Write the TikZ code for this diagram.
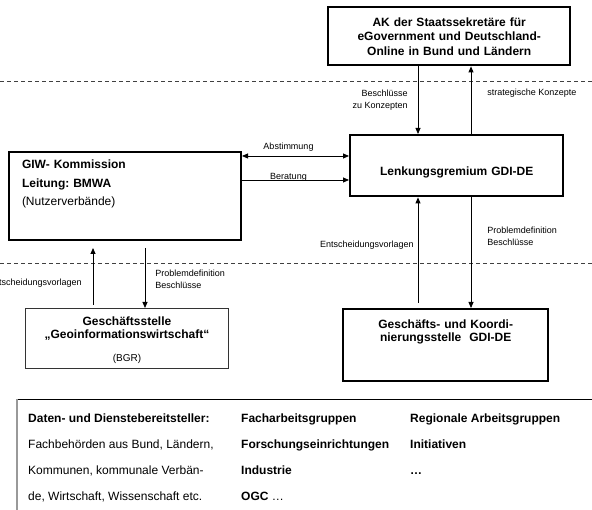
\documentclass[tikz,border=0pt]{standalone}
\usepackage{fontspec}
\setmainfont{Liberation Sans}
\usepackage{tikz}
\usetikzlibrary{arrows.meta,positioning,calc}
\frenchspacing
\tikzset{
  gb/.style={draw, align=center, inner sep=0pt, anchor=north west,
             font=\fontsize{12}{14}\selectfont\bfseries},
  gbold/.style={gb, line width=2.4pt},
  gthin/.style={gb, line width=0.9pt, draw=black!80},
  ar/.style={-{Triangle[length=6pt,width=5pt]}, line width=0.8pt},
  arr/.style={{Triangle[length=6pt,width=5pt]}-{Triangle[length=6pt,width=5pt]}, line width=0.8pt},
  lbl/.style={font=\fontsize{9}{12}\selectfont, inner sep=0pt},
  sepline/.style={dash pattern=on 4pt off 3pt, line width=0.8pt, draw=black!75},
}

\begin{document}
\begin{tikzpicture}[x=1pt, y=-1pt]
  \useasboundingbox (0,0) rectangle (592,510);
  \clip (0,0) rectangle (592,510);

  \draw[sepline] (0,81) -- (592,81);
  \draw[sepline] (0,263) -- (592,263);

  \node[gbold, text width=242pt, text height=19pt, text depth=39pt,
        font=\fontsize{12}{14.5}\selectfont\bfseries] (ak) at (327,6)
    {AK der Staatssekretäre für\\eGovernment und Deutschland-\\Online in Bund und Ländern};
  \node[gbold, text width=213pt, text height=40pt, text depth=21pt] (lenk) at (349,134)
    {Lenkungsgremium GDI-DE};
  \node[gbold, line width=2pt, align=left, text width=206pt, inner xsep=13pt,
        text height=17pt, text depth=71pt, font=\fontsize{12}{18.5}\selectfont\bfseries] (giw) at (8,151)
    {GIW- Kommission\\Leitung: BMWA\\{\mdseries (Nutzerverbände)}};
  \node[gthin, text width=203pt, text height=17pt, text depth=43pt,
        font=\fontsize{12}{13}\selectfont\bfseries] (gs) at (25,308)
    {Geschäftsstelle\\„Geoinformationswirtschaft“\\[10pt]{\mdseries\fontsize{10}{12}\selectfont (BGR)}};
  \node[gbold, text width=205pt, text height=19pt, text depth=53pt,
        font=\fontsize{12}{13}\selectfont\bfseries] (gk) at (342,308)
    {Geschäfts- und Koordi-\\nierungsstelle\ \ GDI-DE};

  \coordinate (xa) at (418,0);
  \coordinate (xb) at (471,0);
  \coordinate (xc) at (93,0);
  \coordinate (xd) at (145,0);
  \coordinate (ab) at ([yshift=-5pt]giw.north east);
  \coordinate (be) at ([yshift=-29pt]giw.north east);

  \draw[ar] (ak.south -| xa) -- node[lbl, left=10pt, align=right] {Beschlüsse\\zu Konzepten} (lenk.north -| xa);
  \draw[ar] (lenk.north -| xb) -- node[lbl, right=16pt, pos=0.6] {strategische Konzepte} (ak.south -| xb);
  \draw[arr] (ab) -- node[lbl, midway, above=4.5pt, xshift=-7pt] {Abstimmung} (ab -| lenk.west);
  \draw[ar] (be) -- node[lbl, midway, anchor=base, xshift=-7pt, yshift=0.5pt] {Beratung} (be -| lenk.west);
  \draw[ar, shorten <=5pt] (gk.north -| xa) -- node[lbl, left=4pt, pos=0.57] {Entscheidungsvorlagen} (lenk.south -| xa);
  \draw[ar] (lenk.south -| xb) -- node[lbl, right=16pt, pos=0.35, align=left] {Problemdefinition\\Beschlüsse} (gk.north -| xb);
  \draw[ar, shorten <=3pt, shorten >=7pt] (gs.north -| xc) -- node[lbl, left=11pt, pos=0.37] {Entscheidungsvorlagen} (giw.south -| xc);
  \draw[ar, shorten <=7pt] (giw.south -| xd) -- node[lbl, right=10pt, pos=0.57, align=left] {Problemdefinition\\Beschlüsse} (gs.north -| xd);

  \node[minimum width=600pt, minimum height=130pt, inner sep=0pt, anchor=north west] (pool) at (17,399) {};
  \draw[line width=0.8pt] (pool.north west) -- (pool.north east);
  \draw[line width=2pt, draw=black!40] (pool.north west) -- (pool.south west);
  \node[anchor=base west, inner sep=0pt, font=\fontsize{12}{25.7}\selectfont] (pooltext)
    at ([xshift=11pt, yshift=-24pt]pool.north west)
    {\begin{tabular}[t]{@{}p{213pt}@{}p{169pt}@{}l@{}}
      \textbf{Daten- und Dienstebereitsteller:} & \textbf{Facharbeitsgruppen} & \textbf{Regionale Arbeitsgruppen}\\
      Fachbehörden aus Bund, Ländern, & \textbf{Forschungseinrichtungen} & \textbf{Initiativen}\\
      Kommunen, kommunale Verbän- & \textbf{Industrie} & \textbf{…}\\
      de, Wirtschaft, Wissenschaft etc. & \textbf{OGC} … & \\
    \end{tabular}};
\end{tikzpicture}
\end{document}
